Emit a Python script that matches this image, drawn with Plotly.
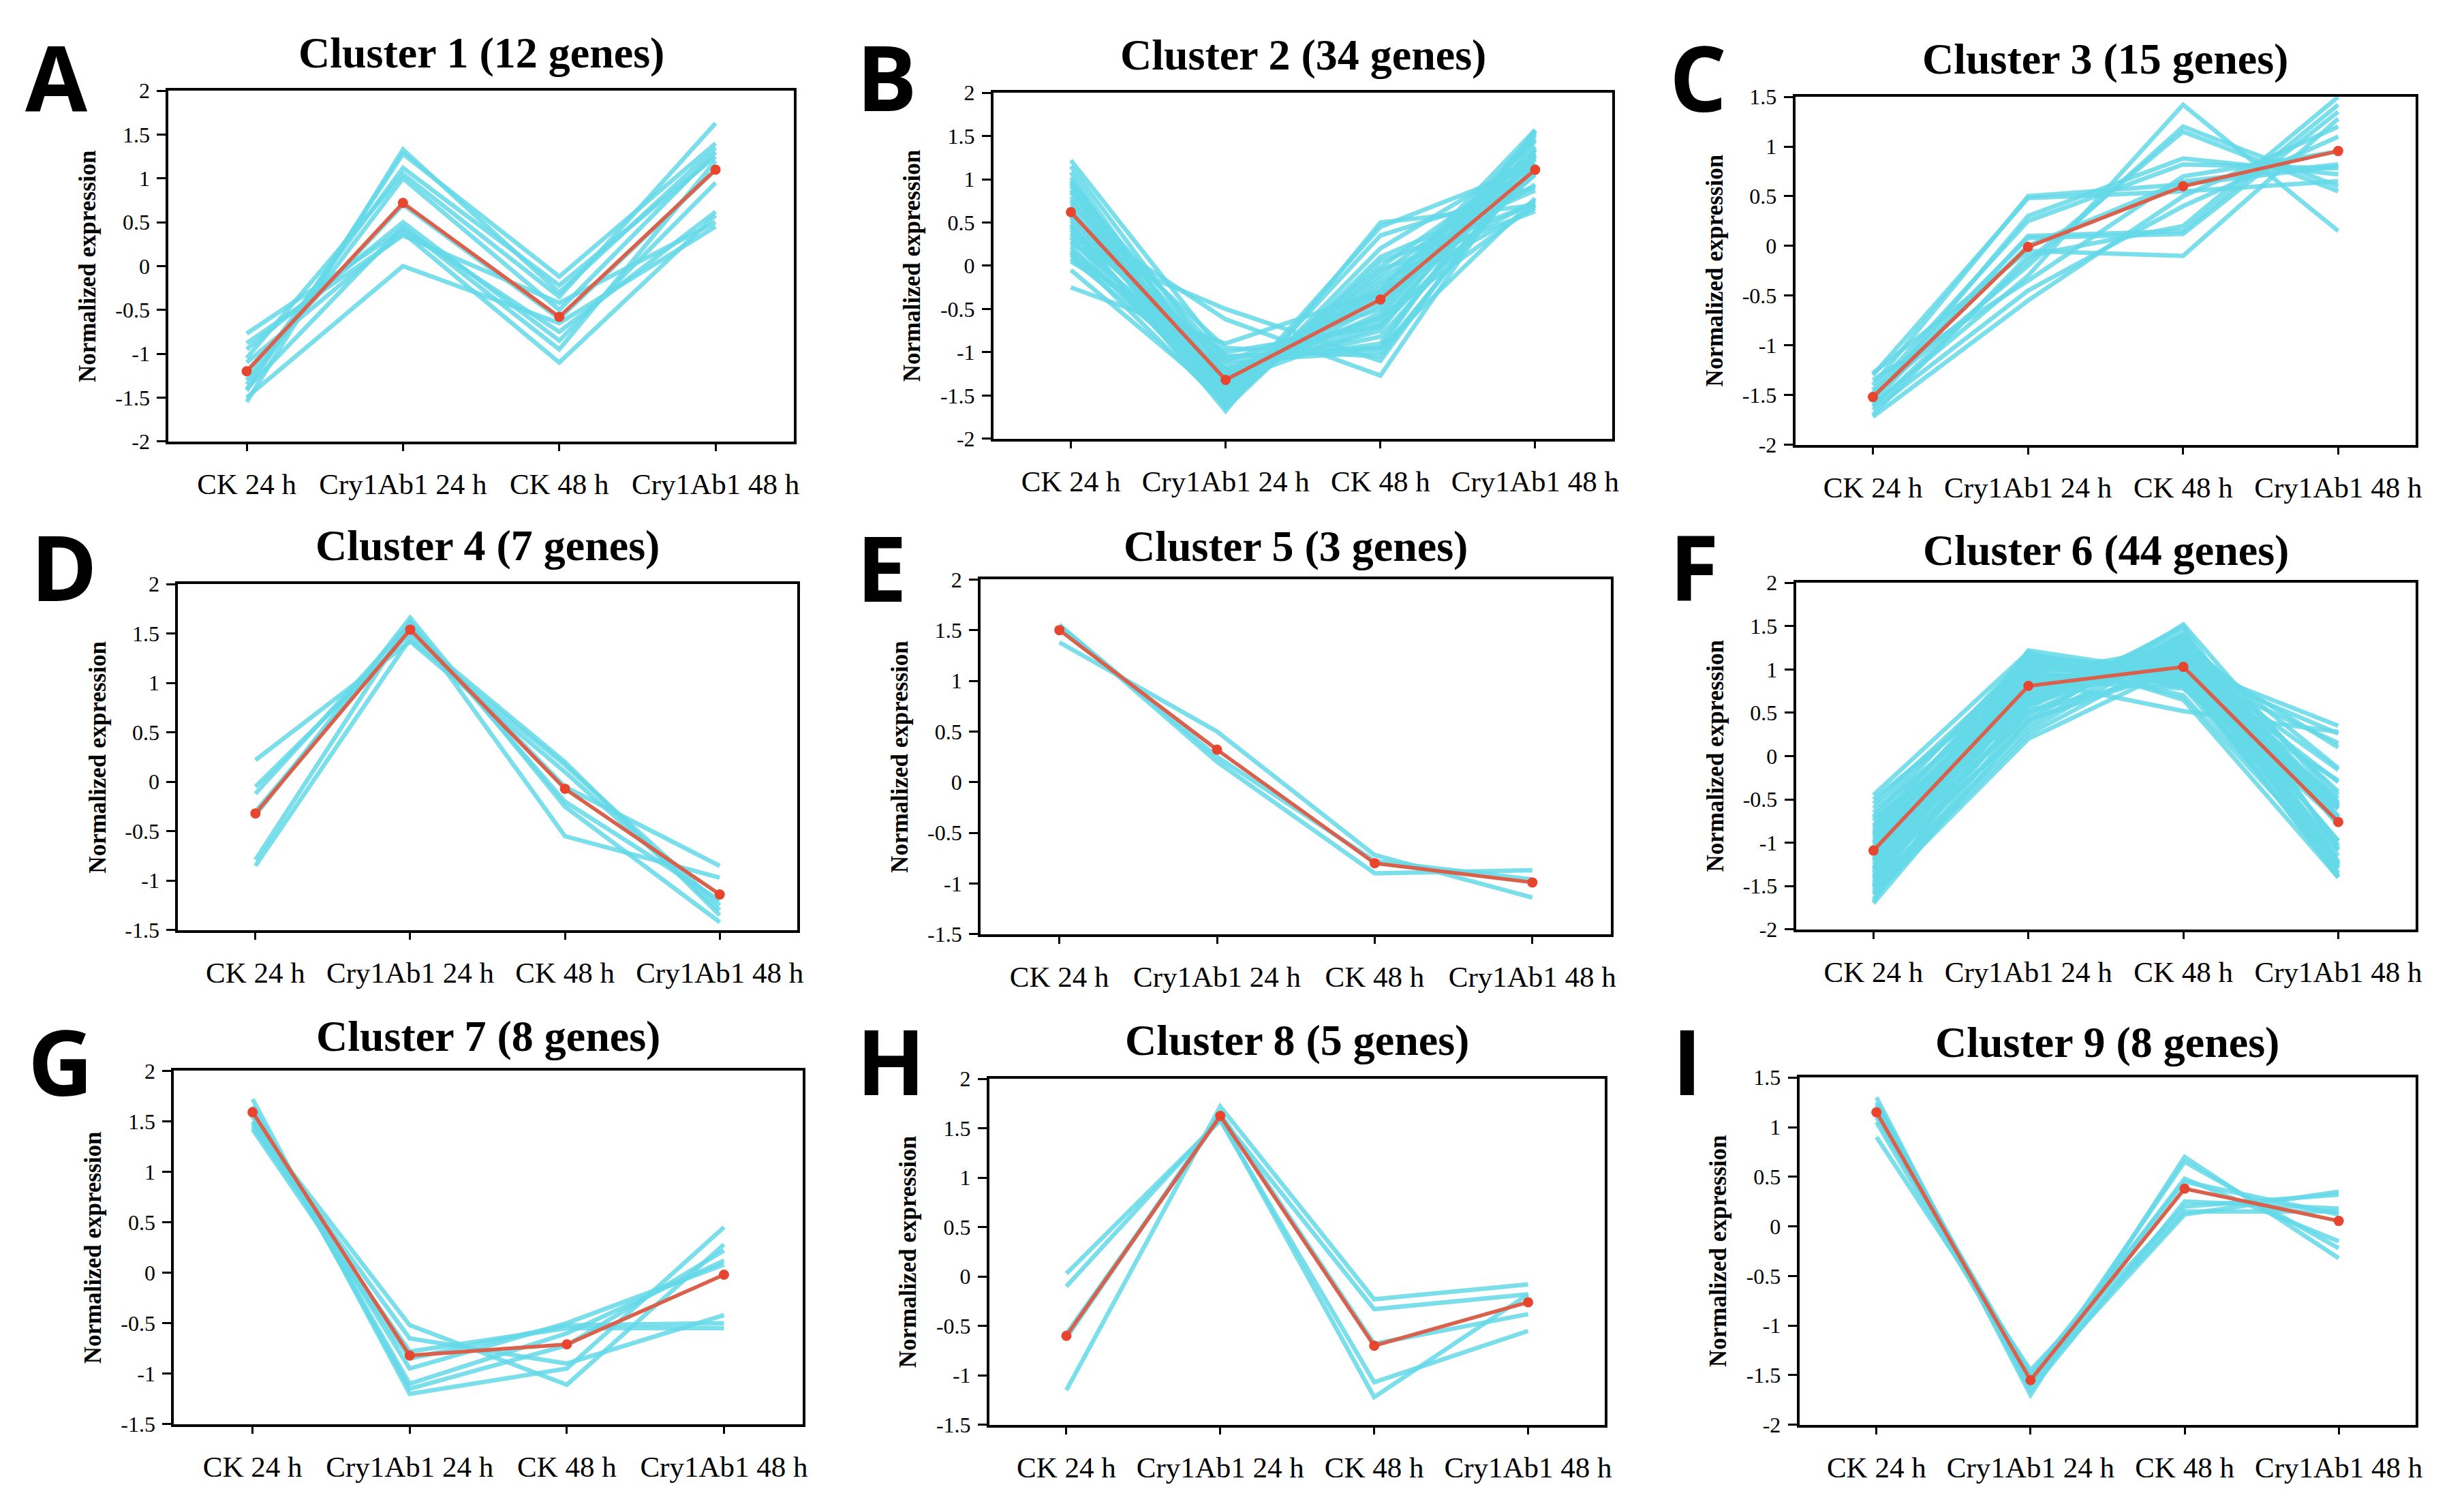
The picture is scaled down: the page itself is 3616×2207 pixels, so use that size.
"""Expression-trend panels for the nine gene clusters (CK vs Cry1Ab1, 24 h / 48 h)."""

import plotly.graph_objects as go

FIG_W, FIG_H = 3616, 2207
CYAN = "rgba(100, 216, 232, 0.85)"
RED_LINE = "#d9604a"
RED_DOT = "#e8452f"
SERIF = "Liberation Serif"
SANS = "Open Sans"

CONDITIONS = ["CK 24 h", "Cry1Ab1 24 h", "CK 48 h", "Cry1Ab1 48 h"]
PANEL_LETTERS = ["A", "B", "C", "D", "E", "F", "G", "H", "I"]
CLUSTER_TITLES = [
    "Cluster 1 (12 genes)", "Cluster 2 (34 genes)", "Cluster 3 (15 genes)",
    "Cluster 4 (7 genes)", "Cluster 5 (3 genes)", "Cluster 6 (44 genes)",
    "Cluster 7 (8 genes)", "Cluster 8 (5 genes)", "Cluster 9 (8 genes)",
]
Y_RANGES = [(-2, 2), (-2, 2), (-2, 1.5), (-1.5, 2), (-1.5, 2), (-2, 2), (-1.5, 2), (-1.5, 2), (-2, 1.5)]

# one row per gene: CK 24 h, Cry1Ab1 24 h, CK 48 h, Cry1Ab1 48 h
CLUSTER_1 = [
    [-1.55, 1.33, -0.30, 1.35], [-1.42, 1.28, -0.12, 1.40], [-1.30, 1.12, -0.22, 1.25],
    [-1.05, 1.05, -0.35, 1.63], [-1.35, 1.00, -0.50, 1.30], [-1.20, 0.70, -0.60, 1.10],
    [-0.95, 0.50, -0.85, 0.95], [-1.40, 0.45, -0.95, 1.20], [-0.77, 0.42, -0.75, 0.62],
    [-1.10, 0.38, -1.10, 0.58], [-0.88, 0.35, -0.42, 0.50], [-1.50, 0.00, -0.65, 0.45],
]
CLUSTER_2 = [
    [1.22, -1.05, -0.95, 0.78], [1.15, -1.25, -0.60, 0.70], [1.08, -1.45, -0.30, 0.67],
    [1.02, -1.60, -0.05, 0.63], [0.98, -1.35, -0.70, 1.07], [0.95, -1.50, -0.20, 0.75],
    [0.92, -1.10, -1.00, 1.18], [0.88, -1.65, 0.05, 0.72], [0.85, -1.20, -0.82, 1.17],
    [0.80, -1.40, -0.45, 1.05], [0.76, -1.55, -0.15, 0.94], [0.72, -0.95, -1.05, 1.28],
    [0.68, -1.30, -0.65, 1.27], [0.65, -1.62, 0.10, 0.87], [0.60, -1.15, -0.90, 1.45],
    [0.57, -1.45, -0.35, 1.23], [0.55, -0.62, -1.27, 1.34], [0.52, -1.35, -0.55, 1.38],
    [0.48, -1.68, 0.50, 0.70], [0.45, -1.25, -0.75, 1.55], [0.42, -1.50, -0.10, 1.18],
    [0.38, -1.05, -0.95, 1.57], [0.35, -1.40, -0.25, 1.30], [0.32, -1.58, 0.35, 0.91],
    [0.28, -1.20, -0.60, 1.52], [0.25, -0.50, -1.10, 1.35], [0.22, -1.45, -0.02, 1.25],
    [0.18, -1.30, -0.40, 1.52], [0.15, -1.62, 0.20, 1.27], [0.12, -1.10, -0.50, 1.48],
    [0.08, -1.35, -0.30, 1.57], [0.05, -1.00, -0.70, 1.56], [-0.05, -1.55, 0.45, 1.15],
    [-0.25, -0.90, -0.30, 1.45],
]
CLUSTER_3 = [
    [-1.40, 0.50, 0.62, 0.80], [-1.30, 0.48, 0.55, 0.65], [-1.55, 0.30, 0.88, 0.72],
    [-1.45, 0.25, 0.82, 0.78], [-1.60, -0.30, 1.42, 0.15], [-1.50, -0.20, 1.20, 0.60],
    [-1.62, -0.15, 1.15, 0.55], [-1.72, -0.55, 0.50, 1.20], [-1.65, -0.45, 0.40, 1.10],
    [-1.35, -0.35, 0.70, 0.95], [-1.58, 0.10, 0.15, 1.42], [-1.48, 0.08, 0.12, 1.35],
    [-1.70, -0.10, 0.20, 1.50], [-1.28, -0.05, -0.10, 1.28], [-1.52, 0.00, 0.65, 0.82],
]
CLUSTER_4 = [
    [0.22, 1.42, 0.10, -1.30], [-0.05, 1.50, 0.20, -1.35], [-0.12, 1.60, -0.20, -1.20],
    [-0.30, 1.55, -0.05, -0.85], [-0.34, 1.66, -0.25, -1.42], [-0.79, 1.62, -0.55, -0.97],
    [-0.85, 1.45, 0.17, -1.25],
]
CLUSTER_5 = [
    [1.38, 0.50, -0.72, -1.14], [1.55, 0.20, -0.90, -0.87], [1.55, 0.25, -0.78, -0.96],
]
CLUSTER_6 = [
    [-0.45, 1.20, 0.65, -1.40], [-0.50, 0.95, 0.80, -1.25], [-0.55, 1.10, 0.70, -1.25],
    [-0.60, 1.05, 0.95, -1.40], [-0.65, 0.85, 1.15, -1.35], [-0.70, 1.18, 0.90, -1.38],
    [-0.72, 0.60, 1.40, -1.28], [-0.75, 1.00, 1.05, -1.30], [-0.80, 0.75, 1.30, -1.25],
    [-0.82, 1.12, 0.85, -1.15], [-0.85, 0.90, 1.20, -1.25], [-0.88, 0.65, 1.45, -1.22],
    [-0.90, 1.15, 0.98, -1.23], [-0.92, 0.80, 1.10, -0.98], [-0.95, 0.95, 1.25, -1.25],
    [-0.98, 0.55, 1.50, -1.07], [-1.00, 1.05, 1.02, -1.07], [-1.02, 0.70, 1.35, -1.03],
    [-1.05, 0.88, 0.78, -0.61], [-1.08, 1.22, 0.95, -1.09], [-1.10, 0.62, 1.28, -0.80],
    [-1.12, 0.98, 1.12, -0.98], [-1.15, 0.45, 1.40, -0.70], [-1.18, 0.82, 1.05, -0.69],
    [-1.20, 1.08, 0.88, -0.76], [-1.22, 0.50, 1.30, -0.58], [-1.25, 0.78, 1.18, -0.71],
    [-1.28, 0.35, 1.38, -0.45], [-1.30, 0.92, 0.95, -0.57], [-1.32, 0.68, 1.22, -0.58],
    [-1.35, 1.15, 0.80, -0.60], [-1.38, 0.40, 1.52, -0.54], [-1.40, 0.85, 1.10, -0.55],
    [-1.42, 0.58, 1.25, -0.41], [-1.45, 1.02, 0.92, -0.49], [-1.48, 0.30, 1.32, -0.14],
    [-1.50, 0.72, 1.08, -0.30], [-1.52, 0.95, 0.85, -0.28], [-1.55, 0.25, 1.20, 0.10],
    [-1.58, 0.62, 1.12, -0.16], [-1.60, 0.20, 1.05, 0.35], [-1.65, 0.52, 0.98, 0.15],
    [-1.68, 0.88, 0.52, 0.28], [-1.70, 0.42, 1.02, 0.26],
]
CLUSTER_7 = [
    [1.72, -1.20, -0.95, 0.45], [1.65, -1.15, -0.72, 0.22], [1.60, -1.10, -0.60, 0.12],
    [1.55, -0.95, -0.50, 0.08], [1.50, -0.52, -1.11, 0.28], [1.48, -0.65, -0.90, -0.42],
    [1.45, -0.78, -0.55, -0.55], [1.42, -0.85, -0.52, -0.50],
]
CLUSTER_8 = [
    [0.03, 1.58, -1.07, -0.55], [-0.10, 1.60, -1.22, -0.18], [-0.62, 1.65, -0.68, -0.38],
    [-0.58, 1.62, -0.33, -0.18], [-1.15, 1.72, -0.23, -0.08],
]
CLUSTER_9 = [
    [1.30, -1.70, 0.70, -0.32], [1.25, -1.60, 0.65, -0.22], [1.20, -1.55, 0.48, -0.15],
    [1.15, -1.50, 0.45, 0.12], [1.22, -1.65, 0.25, 0.18], [1.05, -1.58, 0.12, 0.35],
    [0.90, -1.45, 0.20, 0.32], [1.10, -1.52, 0.15, 0.15],
]
CLUSTERS = [CLUSTER_1, CLUSTER_2, CLUSTER_3, CLUSTER_4, CLUSTER_5, CLUSTER_6, CLUSTER_7, CLUSTER_8, CLUSTER_9]

# centroid (red) line of each cluster
CLUSTER_MEANS = [
    [-1.20, 0.72, -0.58, 1.10],
    [0.62, -1.32, -0.39, 1.11],
    [-1.52, -0.01, 0.60, 0.955],
    [-0.32, 1.54, -0.07, -1.14],
    [1.50, 0.32, -0.80, -0.99],
    [-1.09, 0.81, 1.03, -0.76],
    [1.59, -0.82, -0.71, -0.02],
    [-0.60, 1.625, -0.70, -0.26],
    [1.15, -1.55, 0.38, 0.055],
]

# plot boxes in page pixels: left, top, right, bottom
PANEL_BOXES = [
    (240, 109, 1160, 632), (1454, 112, 2365, 628), (2634, 118, 3547, 637),
    (254, 845, 1165, 1361), (1435, 838, 2363, 1367), (2635, 843, 3547, 1360),
    (248, 1571, 1173, 2098), (1448, 1583, 2354, 2099), (2640, 1581, 3547, 2099),
]
TITLE_Y = [52, 55, 61, 787, 788, 794, 1519, 1525, 1528]
LETTER_POS = [(27, 88), (1250, 87), (2447, 88), (35, 818), (1250, 819), (2447, 818),
              (31, 1556), (1250, 1555), (2451, 1555)]


def _px(x: float, y: float) -> tuple[float, float]:
    return x / FIG_W, 1 - y / FIG_H


def _ticks(low: float, high: float) -> list[float]:
    count = int(round((high - low) / 0.5))
    return [low + 0.5 * step for step in range(count + 1)]


fig = go.Figure()
annotations = []
x_positions = list(range(len(CONDITIONS)))

for index, genes in enumerate(CLUSTERS):
    axis_id = "" if index == 0 else str(index + 1)
    xref, yref = f"x{axis_id}", f"y{axis_id}"
    for gene in genes:
        fig.add_trace(go.Scatter(x=x_positions, y=gene, mode="lines", line={"color": CYAN, "width": 6.5},
                                 hoverinfo="skip", showlegend=False, xaxis=xref, yaxis=yref))
    fig.add_trace(go.Scatter(x=x_positions, y=CLUSTER_MEANS[index], mode="lines+markers",
                             line={"color": RED_LINE, "width": 5.5}, marker={"color": RED_DOT, "size": 15},
                             showlegend=False, xaxis=xref, yaxis=yref))

    left, top, right, bottom = PANEL_BOXES[index]
    x0, y_top = _px(left, top)
    x1, y_bottom = _px(right, bottom)
    low, high = Y_RANGES[index]
    tick_values = _ticks(low, high)
    axis_common = {"showline": True, "mirror": True, "linecolor": "black", "linewidth": 4,
                   "showgrid": False, "zeroline": False, "ticks": "outside", "tickwidth": 3,
                   "tickcolor": "black", "fixedrange": True}
    fig.update_layout(**{
        f"xaxis{axis_id}": {**axis_common, "domain": [x0, x1], "anchor": yref, "range": [-0.5, 3.5],
                            "tickvals": x_positions, "ticktext": CONDITIONS, "ticklen": 10,
                            "ticklabelstandoff": 12, "tickfont": {"family": SERIF, "size": 43, "color": "black"}},
        f"yaxis{axis_id}": {**axis_common, "domain": [y_bottom, y_top], "anchor": xref, "range": [low, high],
                            "tickvals": tick_values, "ticktext": [f"{value:g}" for value in tick_values],
                            "ticklen": 13, "ticklabelstandoff": 4,
                            "tickfont": {"family": SERIF, "size": 32, "color": "black"}},
    })

    title_x, title_y = _px((left + right) / 2, TITLE_Y[index])
    annotations.append({"text": f"<b>{CLUSTER_TITLES[index]}</b>", "x": title_x, "y": title_y,
                        "xref": "paper", "yref": "paper", "xanchor": "center", "yanchor": "middle",
                        "showarrow": False, "font": {"family": SERIF, "size": 64, "color": "black"}})
    label_x, label_y = _px(left - 119, (top + bottom) / 2)
    annotations.append({"text": "<b>Normalized expression</b>", "x": label_x, "y": label_y, "textangle": -90,
                        "xref": "paper", "yref": "paper", "xanchor": "center", "yanchor": "middle",
                        "showarrow": False, "font": {"family": SERIF, "size": 35, "color": "black"}})
    letter_x, letter_y = _px(*LETTER_POS[index])
    annotations.append({"text": f"<b>{PANEL_LETTERS[index]}</b>", "x": letter_x, "y": letter_y,
                        "xref": "paper", "yref": "paper", "xanchor": "left", "yanchor": "middle",
                        "showarrow": False, "font": {"family": SANS, "size": 132, "color": "black"}})

fig.update_layout(width=FIG_W, height=FIG_H, margin={"l": 0, "r": 0, "t": 0, "b": 0},
                  paper_bgcolor="white", plot_bgcolor="white", annotations=annotations)
fig.write_html("out.html")
